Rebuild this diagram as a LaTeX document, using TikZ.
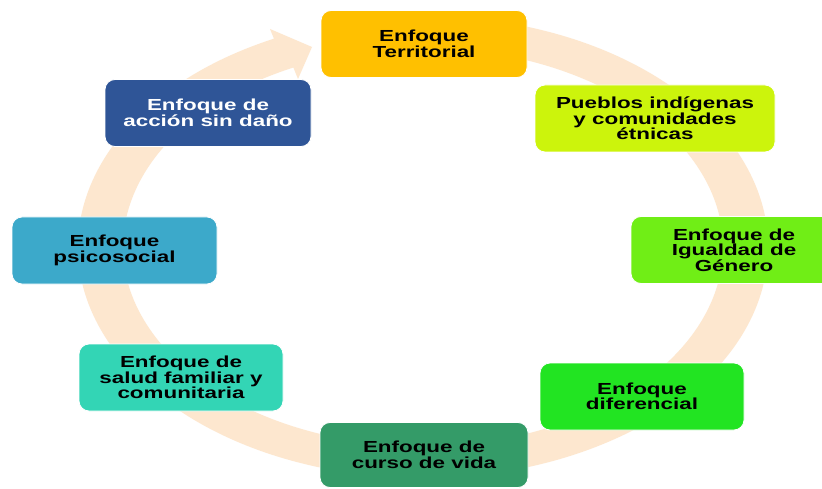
\documentclass[tikz,border=0pt]{standalone}
\usepackage{fontspec}
\newfontfamily\boxfont{Liberation Sans Bold}[FakeStretch=1.4]
\definecolor{ringc}{RGB}{253,231,207}
\definecolor{cTerr}{RGB}{255,192,0}
\definecolor{cPueb}{RGB}{204,244,12}
\definecolor{cGen}{RGB}{112,238,22}
\definecolor{cDif}{RGB}{34,228,34}
\definecolor{cCur}{RGB}{52,155,104}
\definecolor{cSal}{RGB}{51,213,181}
\definecolor{cPsi}{RGB}{60,169,202}
\definecolor{cAcc}{RGB}{47,85,151}
\tikzset{
  box/.style={rectangle, rounded corners=10pt, draw=white, line width=0.8pt,
    minimum width=206pt, minimum height=67pt, align=center, inner sep=2pt,
    font=\boxfont\fontsize{16}{15.5}\selectfont, text=black}
}
\begin{document}
\begin{tikzpicture}[x=1pt,y=-1pt]
\useasboundingbox (0,0) rectangle (822,489);
\clip (0,0) rectangle (822,489);
\fill[white] (0,0) rectangle (822,489);
% ring with arrowhead
\begin{scope}[shift={(423,247)}]
\fill[ringc] (-80:345 and 231) arc[start angle=-80, end angle=244.4, x radius=345, y radius=231]
  -- (270-423,29-247) -- (312-423,47-247) -- (298-423,79-247)
  -- (244.4:300 and 199) arc[start angle=244.4, end angle=-80, x radius=300, y radius=199] -- cycle;
\end{scope}
\node[box, fill=cTerr] (terr) at (424,44) {Enfoque\\Territorial};
\node[box, fill=cPueb, minimum width=240pt] (pueb) at (655,118.5) {Pueblos indígenas\\y comunidades\\étnicas};
\node[box, fill=cGen] (gen) at (734,250) {Enfoque de\\Igualdad de\\Género};
\node[box, fill=cDif, minimum width=204pt] (dif) at (642,396.5) {Enfoque\\diferencial};
\node[box, fill=cCur, minimum width=208pt, minimum height=65pt] (cur) at (424,455) {Enfoque de\\curso de vida};
\node[box, fill=cSal, minimum width=204pt] (sal) at (181,377.5) {Enfoque de\\salud familiar y\\comunitaria};
\node[box, fill=cPsi, minimum width=205pt] (psi) at (114.5,250.5) {Enfoque\\psicosocial};
\node[box, fill=cAcc, text=white] (acc) at (208,113) {Enfoque de\\acción sin daño};
\end{tikzpicture}
\end{document}
